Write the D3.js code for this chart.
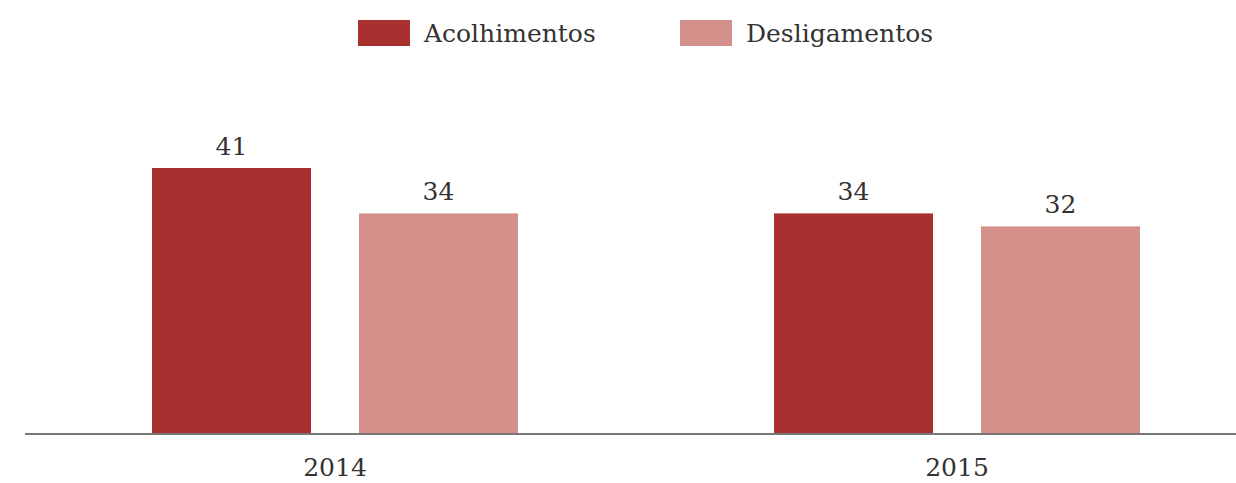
<!DOCTYPE html>
<html><head><meta charset="utf-8">
<script src="https://cdn.jsdelivr.net/npm/d3@7"></script>
<style>body{margin:0;background:#fff}svg{display:block}</style>
</head><body>
<svg id="c" width="1236" height="483"></svg>
<script>
const years = ["2014", "2015"];
const seriesNames = ["Acolhimentos", "Desligamentos"];
const acolhimentos = [41, 34];
const desligamentos = [34, 32];
const colors = ["#a8302e", "#d4918c"];

const svg = d3.select("#c");
const font = "'DejaVu Serif', 'Liberation Serif', serif";
const x0 = d3.scaleBand().domain(years).range([24, 1268]).padding(0);
const x1 = d3.scaleBand().domain(seriesNames).range([128, 494]).paddingInner(48/207).paddingOuter(0);
const y = d3.scaleLinear().domain([0, 41]).range([434, 168]);

const data = years.map((yr, i) => ({year: yr, vals: [
  {s: seriesNames[0], v: acolhimentos[i]}, {s: seriesNames[1], v: desligamentos[i]}]}));

const g = svg.selectAll("g.grp").data(data).enter().append("g")
  .attr("transform", d => `translate(${x0(d.year)},0)`);
g.selectAll("rect").data(d => d.vals).enter().append("rect")
  .attr("x", d => x1(d.s)).attr("width", x1.bandwidth())
  .attr("y", d => y(d.v)).attr("height", d => y(0) - y(d.v))
  .attr("fill", (d, i) => colors[i]);
g.selectAll("text.val").data(d => d.vals).enter().append("text")
  .attr("class", "val")
  .attr("x", d => x1(d.s) + x1.bandwidth()/2).attr("y", d => y(d.v) - 13)
  .attr("text-anchor", "middle").attr("font-family", font).attr("font-size", 25)
  .attr("fill", "#333").text(d => d.v);

const axis = svg.append("g").attr("transform", `translate(0,${y(0)})`)
  .call(d3.axisBottom(x0).tickSize(0).tickPadding(24));
axis.select(".domain").attr("stroke", "#777").attr("stroke-width", 2).attr("d", "M25,0H1236");
axis.selectAll("text").attr("font-family", font).attr("font-size", 25).attr("fill", "#333");

const legX = [358, 680];
const leg = svg.selectAll("g.leg").data(seriesNames).enter().append("g")
  .attr("transform", (d, i) => `translate(${legX[i]},20)`);
leg.append("rect").attr("width", 52).attr("height", 26).attr("fill", (d, i) => colors[i]);
leg.append("text").attr("x", 66).attr("y", 22).attr("font-family", font).attr("font-size", 25)
  .attr("fill", "#333").text(d => d);
</script>
</body></html>
